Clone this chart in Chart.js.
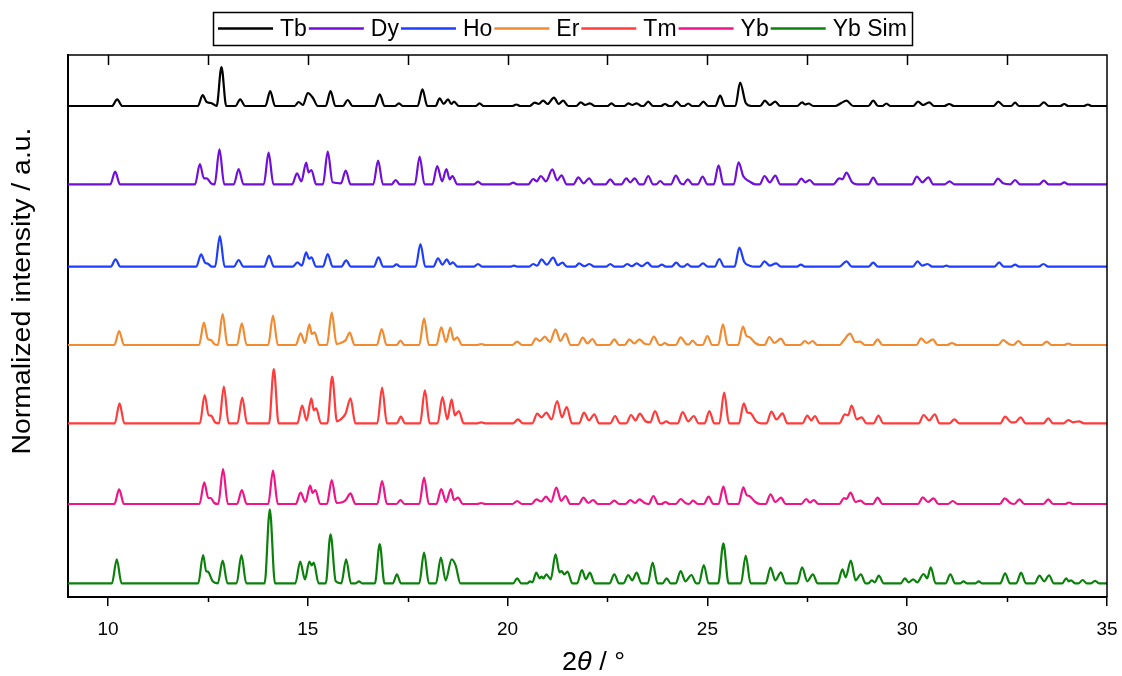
<!DOCTYPE html>
<html>
<head>
<meta charset="utf-8">
<script src="https://cdn.jsdelivr.net/npm/chart.js@4.4.1/dist/chart.umd.min.js"></script>
<style>
html,body{margin:0;padding:0;background:#fff;}
#wrap{width:1122px;height:676px;position:relative;}
</style>
</head>
<body>
<div id="wrap"><canvas id="c" width="1122" height="676"></canvas></div>
<script>
// ---- data (2theta in degrees, intensity in a.u. above each trace's own baseline) ----
const seriesLabels = ["Tb", "Dy", "Ho", "Er", "Tm", "Yb", "Yb Sim"];
const seriesColors = ["#000000", "#6f0fd9", "#1f3dff", "#f28a30", "#ff3b3b", "#ef1587", "#0b800b"];
const offsets = [491, 412.7, 330.3, 252, 173.7, 93, 13.7];
const xTickValues = [10, 15, 20, 25, 30, 35];
const xMinorTicks = [12.5, 17.5, 22.5, 27.5, 32.5];
const xRange = [9, 35];

const tbData = [[9,0],[10.1,0],[10.23,6.7],[10.36,0],
[12.25,0],[12.37,11],[12.47,4],[12.58,3],[12.72,0],[12.84,39],[12.96,0],
[13.19,0],[13.31,6.7],[13.43,0],
[13.94,0],[14.06,15],[14.18,0],
[14.67,0],[14.77,4],[14.88,1],[15.0,13],[15.13,8],[15.25,0],
[15.45,0],[15.57,15],[15.69,0],
[15.88,0],[16.0,6],[16.12,0],
[16.68,0],[16.8,11.7],[16.92,0],
[17.18,0],[17.28,2.7],[17.38,0],
[17.75,0],[17.87,16.7],[17.99,0],
[18.2,0],[18.3,7.7],[18.4,2],[18.51,6.7],[18.59,2],[18.66,4.3],[18.78,0],
[19.2,0],[19.3,2.7],[19.4,0],
[20.12,0],[20.22,1.5],[20.32,0],
[20.55,0],[20.68,3.3],[20.78,2],[20.89,5.3],[21.0,2],[21.16,8.3],[21.28,2],[21.39,5.3],[21.52,0],
[21.72,0],[21.83,3.7],[21.94,1],[22.06,2.7],[22.18,0],
[22.5,0],[22.6,2.7],[22.7,0],
[22.92,0],[23.02,2.7],[23.12,1],[23.23,2.7],[23.35,0],
[23.4,0],[23.52,4.3],[23.64,0],
[23.84,0],[23.94,2],[24.04,0],
[24.12,0],[24.23,4.3],[24.35,0],
[24.42,0],[24.52,2.5],[24.62,0],
[24.78,0],[24.9,4.3],[25.02,0],
[25.2,0],[25.32,10.3],[25.44,0],
[25.7,0],[25.82,23.3],[25.96,3],[26.1,0],
[26.32,0],[26.44,5.3],[26.56,1],[26.7,4.3],[26.82,0],
[27.25,0],[27.37,3.7],[27.45,1.5],[27.53,2.5],[27.65,0],
[28.2,0],[28.35,3],[28.48,5.3],[28.65,0],
[29.03,0],[29.15,5.3],[29.27,0],
[29.38,0],[29.48,2.5],[29.58,0],
[30.15,0],[30.27,4.3],[30.4,1],[30.55,3.7],[30.67,0],
[30.93,0],[31.05,2],[31.17,0],
[32.16,0],[32.28,4.3],[32.42,0],
[32.6,0],[32.7,3.3],[32.8,0],
[33.3,0],[33.42,3.7],[33.54,0],
[33.83,0],[33.93,2],[34.03,0],
[34.42,0],[34.52,1.5],[34.62,0],[35,0]];

const dyData = [[9,0],[10.06,0],[10.18,12.7],[10.3,0],
[12.18,0],[12.3,20.3],[12.4,6],[12.47,6],[12.58,1],[12.67,0],[12.79,35],[12.91,0],
[13.15,0],[13.27,15.3],[13.39,0],
[13.9,0],[14.02,31.7],[14.14,0],
[14.61,0],[14.73,11],[14.84,3],[14.96,21.7],[15.02,12],[15.09,14.3],[15.21,0],
[15.38,0],[15.5,32.7],[15.62,2],[15.83,1],[15.95,13.7],[16.07,0],
[16.64,0],[16.76,23.7],[16.88,0],
[17.1,0],[17.2,4.3],[17.3,0],
[17.68,0],[17.8,27.7],[17.92,0],
[18.12,0],[18.24,18.3],[18.36,3],[18.47,15.3],[18.55,5],[18.62,8.3],[18.74,0],
[19.16,0],[19.26,2.7],[19.36,0],
[20.04,0],[20.14,1.7],[20.24,0],
[20.52,0],[20.64,5.3],[20.73,3],[20.83,8.3],[20.96,3],[21.12,15],[21.24,4],[21.35,9],[21.48,0],
[21.65,0],[21.77,7],[21.9,1],[22.04,6],[22.16,0],
[22.45,0],[22.57,5],[22.69,0],
[22.85,0],[22.97,6],[23.07,2],[23.18,6],[23.3,0],
[23.4,0],[23.52,8.3],[23.64,0],
[23.72,0],[23.82,3.3],[23.92,0],
[24.09,0],[24.21,8.7],[24.33,1],[24.4,0],[24.51,5],[24.63,0],
[24.76,0],[24.88,7.7],[25.0,0],
[25.16,0],[25.28,19],[25.4,0],
[25.66,0],[25.78,22],[25.9,8],[26.05,3],[26.2,0],
[26.31,0],[26.43,8.3],[26.56,2],[26.7,8.7],[26.82,0],
[27.23,0],[27.35,5.7],[27.45,2],[27.56,4.3],[27.68,0],
[28.15,0],[28.3,6],[28.38,5],[28.48,11.7],[28.62,2],[28.75,0],
[29.03,0],[29.15,6.7],[29.27,0],
[30.12,0],[30.24,7.7],[30.38,2],[30.53,7],[30.65,0],
[30.94,0],[31.06,3],[31.18,0],
[32.15,0],[32.27,5.7],[32.4,1],[32.58,0],[32.7,4.3],[32.82,0],
[33.3,0],[33.42,3.7],[33.54,0],
[33.83,0],[33.93,2],[34.03,0],[35,0]];

const hoData = [[9,0],[10.07,0],[10.19,7.3],[10.31,0],
[12.21,0],[12.33,12.3],[12.43,4],[12.5,3],[12.6,0],[12.68,0],[12.8,30.7],[12.92,0],
[13.15,0],[13.27,6.7],[13.39,0],
[13.91,0],[14.03,11],[14.15,0],
[14.62,0],[14.74,4.3],[14.85,1],[14.96,14.3],[15.03,8],[15.09,9.3],[15.21,0],
[15.38,0],[15.5,12.7],[15.62,0],
[15.84,0],[15.96,6.3],[16.08,0],
[16.65,0],[16.77,9.3],[16.89,0],
[17.12,0],[17.22,2.3],[17.32,0],
[17.7,0],[17.82,22.7],[17.94,0],
[18.14,0],[18.26,8.3],[18.37,2],[18.48,7.3],[18.56,2.5],[18.63,4.3],[18.75,0],
[19.16,0],[19.26,2.7],[19.36,0],
[20.06,0],[20.16,1],[20.26,0],
[20.54,0],[20.64,2.7],[20.74,1],[20.85,7.3],[20.98,2],[21.14,9],[21.26,1.5],[21.37,4],[21.49,0],
[21.69,0],[21.79,3.3],[21.92,0.5],[22.05,2.7],[22.17,0],
[22.47,0],[22.57,2.7],[22.67,0],
[22.89,0],[22.99,2.7],[23.11,0.5],[23.23,3.3],[23.36,0.5],[23.5,4],[23.62,0],
[23.76,0],[23.86,2],[23.96,0],
[24.1,0],[24.22,4],[24.34,0],
[24.4,0],[24.5,2.5],[24.6,0],
[24.77,0],[24.89,3.3],[25.01,0],
[25.18,0],[25.3,7.7],[25.42,0],
[25.68,0],[25.8,19],[25.92,5],[26.06,1],[26.2,0],
[26.31,0],[26.43,5.3],[26.56,1],[26.72,3.3],[26.84,0],
[27.24,0],[27.34,2],[27.44,0],
[28.3,0],[28.48,5.3],[28.62,0],
[29.03,0],[29.15,4],[29.27,0],
[30.14,0],[30.26,5.3],[30.38,1],[30.51,2.7],[30.63,0],
[30.88,0],[30.98,1],[31.08,0],
[32.18,0],[32.3,4.3],[32.42,0],
[32.6,0],[32.7,2],[32.8,0],
[33.29,0],[33.41,2.7],[33.53,0],[35,0]];

const erData = [[9,0],[10.16,0],[10.28,14],[10.4,0],
[12.28,0],[12.4,22.3],[12.5,6],[12.58,5],[12.66,1],[12.75,0],[12.87,31],[12.99,0],
[13.23,0],[13.35,21.7],[13.47,0],
[14.01,0],[14.13,29.3],[14.25,0],
[14.7,0],[14.82,11.7],[14.93,2],[15.04,20.7],[15.1,11],[15.17,12.7],[15.29,0],
[15.48,0],[15.6,32.3],[15.72,1],[15.88,3],[15.95,5],[16.05,12.3],[16.17,0],
[16.73,0],[16.85,16],[16.97,0],
[17.22,0],[17.32,4.3],[17.42,0],
[17.79,0],[17.91,26.7],[18.03,0],
[18.22,0],[18.34,17.7],[18.46,3],[18.57,17.3],[18.65,5],[18.74,7.7],[18.86,0],
[19.24,0],[19.34,1],[19.44,0],
[20.12,0],[20.24,3.3],[20.36,0],
[20.59,0],[20.71,6.7],[20.81,4],[20.93,8.3],[21.06,3],[21.2,15.7],[21.32,4],[21.45,11.3],[21.58,0],
[21.76,0],[21.88,7.3],[22.0,1.5],[22.12,6],[22.24,0],
[22.55,0],[22.67,5.7],[22.79,0],
[22.93,0],[23.05,5.7],[23.17,1.5],[23.3,5.7],[23.42,1.5],[23.54,0.5],[23.66,8.3],[23.8,0],
[23.85,0],[23.93,2],[24.03,0],
[24.21,0],[24.33,7.7],[24.47,1],[24.53,0.5],[24.63,4.3],[24.75,0],
[24.88,0],[25.0,9],[25.12,0],
[25.27,0],[25.39,20.7],[25.51,0],
[25.77,0],[25.89,18.3],[25.98,9],[26.05,8],[26.2,2],[26.32,0],
[26.43,0],[26.55,8],[26.68,2],[26.84,6.3],[26.96,0],
[27.32,0],[27.44,4],[27.53,1.5],[27.63,4],[27.75,0],
[28.3,0],[28.42,5],[28.57,11.3],[28.7,3],[28.82,3.3],[28.94,0],
[29.14,0],[29.26,5.7],[29.38,0],
[30.23,0],[30.35,6.7],[30.48,2],[30.64,5.7],[30.76,0],
[31.0,0],[31.12,2],[31.24,0],
[32.28,0],[32.4,5],[32.54,1],[32.66,0],[32.78,4],[32.9,0],
[33.37,0],[33.49,3.3],[33.61,0],
[33.93,0],[34.03,1.5],[34.13,0],[35,0]];

const tmData = [[9,0],[10.17,0],[10.29,20],[10.41,0],
[12.3,0],[12.42,28.3],[12.52,8],[12.58,7.7],[12.68,1],[12.78,0],[12.9,36.7],[13.02,0],
[13.24,0],[13.36,25.7],[13.48,0],
[14.03,0],[14.15,54.3],[14.27,0],
[14.74,0],[14.86,17.7],[14.97,3],[15.09,25],[15.15,13],[15.21,15],[15.33,0],
[15.49,0],[15.61,46.7],[15.73,2],[15.88,6],[15.95,10],[16.07,25],[16.19,0],
[16.74,0],[16.86,35.7],[16.98,0],
[17.23,0],[17.33,6.7],[17.43,0],
[17.81,0],[17.93,33],[18.05,0],
[18.25,0],[18.37,26.3],[18.49,4],[18.6,24],[18.68,8],[18.78,12.3],[18.9,0],
[19.24,0],[19.34,1],[19.44,0],
[20.14,0],[20.26,4],[20.38,0],
[20.62,0],[20.74,9.7],[20.85,6],[20.97,10.7],[21.1,4],[21.24,22.3],[21.36,6],[21.48,16.3],[21.61,0],
[21.79,0],[21.91,10.7],[22.04,3],[22.17,9],[22.29,0],
[22.57,0],[22.69,7.3],[22.81,0],
[22.97,0],[23.09,8.3],[23.2,3],[23.31,9.7],[23.45,2],[23.57,1],[23.69,12.3],[23.83,0],
[23.87,0],[23.97,2],[24.07,0],
[24.26,0],[24.38,11.3],[24.52,2],[24.66,7.3],[24.78,0],
[24.93,0],[25.05,12.3],[25.17,0],
[25.3,0],[25.42,30.7],[25.54,0],
[25.79,0],[25.91,20],[26.0,11],[26.08,10],[26.22,2],[26.34,0],
[26.48,0],[26.6,11.7],[26.73,4],[26.88,10],[27.0,0],
[27.38,0],[27.5,7.7],[27.6,3],[27.69,7.3],[27.81,0],
[28.3,0],[28.44,9],[28.52,8],[28.61,17.7],[28.74,4],[28.86,6],[28.98,0],
[29.16,0],[29.28,7.7],[29.4,0],
[30.29,0],[30.41,8.3],[30.55,3],[30.69,9],[30.81,0],
[31.06,0],[31.18,4],[31.3,0],
[32.33,0],[32.45,6.7],[32.6,1],[32.7,1],[32.84,6],[32.96,0],
[33.41,0],[33.53,5],[33.65,0],
[33.91,0],[34.03,3.3],[34.15,1],[34.3,2],[34.42,0],[35,0]];

const ybData = [[9,0],[10.16,0],[10.28,14.7],[10.4,0],
[12.29,0],[12.41,21.7],[12.51,6],[12.57,6],[12.66,1],[12.76,0],[12.88,35],[13.0,0],
[13.23,0],[13.35,14],[13.47,0],
[14.01,0],[14.13,33.3],[14.25,0],
[14.7,0],[14.82,11.3],[14.94,2],[15.06,18.3],[15.12,11],[15.19,14],[15.31,0],
[15.48,0],[15.6,24],[15.72,1],[15.88,2],[15.95,4],[16.07,10.7],[16.19,0],
[16.74,0],[16.86,23],[16.98,0],
[17.22,0],[17.32,4],[17.42,0],
[17.79,0],[17.91,26.3],[18.03,0],
[18.22,0],[18.34,15],[18.46,2],[18.58,15],[18.66,4],[18.76,6.3],[18.88,0],
[19.24,0],[19.34,1],[19.44,0],
[20.12,0],[20.24,3],[20.36,0],
[20.6,0],[20.72,4.7],[20.84,2.5],[20.96,7.3],[21.09,2],[21.22,16.3],[21.34,3],[21.45,8],[21.57,0],
[21.78,0],[21.9,6.3],[22.02,1],[22.14,4],[22.26,0],
[22.55,0],[22.67,3.3],[22.79,0],
[22.95,0],[23.07,4],[23.19,1],[23.3,4.7],[23.43,1],[23.53,0],[23.65,8],[23.77,0],
[23.85,0],[23.95,2],[24.05,0],
[24.21,0],[24.33,5],[24.45,1],[24.54,0],[24.64,3.3],[24.76,0],
[24.91,0],[25.03,7.3],[25.15,0],
[25.28,0],[25.4,17.3],[25.52,0],
[25.78,0],[25.9,16.7],[25.98,9],[26.05,8],[26.2,2],[26.32,0],
[26.46,0],[26.58,9.7],[26.7,2],[26.84,6.3],[26.96,0],
[27.35,0],[27.47,5],[27.57,1.5],[27.66,4],[27.78,0],
[28.3,0],[28.42,6],[28.48,5],[28.58,11.3],[28.71,2],[28.83,3.3],[28.95,0],
[29.14,0],[29.26,6.3],[29.38,0],
[30.27,0],[30.39,6.7],[30.52,2],[30.66,5.7],[30.78,0],
[31.02,0],[31.14,3],[31.26,0],
[32.32,0],[32.44,5.7],[32.58,1],[32.68,0],[32.81,4.7],[32.93,0],
[33.41,0],[33.53,4.7],[33.65,0],
[33.95,0],[34.05,1.5],[34.15,0],[35,0]];

const ybSimData = [[9,0],[10.1,0],[10.22,24],[10.34,0],
[12.26,0],[12.38,28.3],[12.46,12],[12.5,11.7],[12.62,2],[12.75,0],[12.87,22.7],[12.99,0],
[13.22,0],[13.34,28.3],[13.46,0],
[13.92,0],[14.05,74],[14.18,0],
[14.69,0],[14.81,21.7],[14.93,4],[15.04,21.7],[15.1,18],[15.15,20.7],[15.27,0],
[15.45,0],[15.57,49],[15.7,2],[15.84,0],[15.96,24],[16.08,0],
[16.2,0],[16.28,2],[16.36,0],
[16.68,0],[16.8,39.3],[16.92,0],
[17.13,0],[17.23,9],[17.33,0],
[17.79,0],[17.91,30.7],[18.03,0],
[18.21,0],[18.33,25.7],[18.45,3],[18.6,24],[18.7,18],[18.82,0],
[20.14,0],[20.24,5],[20.34,0],
[20.5,0],[20.56,2],[20.62,1],[20.72,10.7],[20.8,5],[20.85,6.7],[20.9,5],[20.97,9],[21.08,4],[21.2,29],[21.3,11],[21.35,12.3],[21.42,9],[21.5,11.7],[21.62,0],
[21.74,0],[21.86,13.3],[21.96,4],[22.06,10.7],[22.18,0],
[22.55,0],[22.67,9],[22.79,0],
[22.9,0],[23.02,8.3],[23.12,3],[23.23,10.7],[23.35,0],
[23.51,0],[23.63,20.7],[23.75,0],
[23.88,0],[23.98,5],[24.08,0],
[24.21,0],[24.33,12.3],[24.45,2],[24.6,8.3],[24.72,0],
[24.79,0],[24.91,18.3],[25.03,0],
[25.27,0],[25.4,40],[25.53,0],
[25.84,0],[25.96,27.7],[26.08,0],
[26.46,0],[26.58,15.7],[26.7,3],[26.84,11],[26.96,0],
[27.25,0],[27.37,16],[27.5,2],[27.64,9],[27.76,0],
[28.26,0],[28.38,14],[28.46,6],[28.59,22.7],[28.71,3],[28.84,9],[28.96,0],
[29.03,0],[29.11,3],[29.19,1],[29.29,7.7],[29.41,0],
[29.84,0],[29.94,5],[30.04,1],[30.15,4],[30.25,1],[30.41,9.3],[30.5,5],[30.59,16],[30.71,0],
[30.96,0],[31.08,9],[31.2,0],
[31.33,0],[31.41,2],[31.49,0],
[31.71,0],[31.79,2],[31.87,0],
[32.33,0],[32.45,10],[32.57,0],
[32.73,0],[32.85,10.7],[32.97,0],
[33.19,0],[33.31,7.7],[33.43,2],[33.55,8],[33.67,0],
[33.88,0],[33.98,5],[34.04,2],[34.1,3],[34.2,0],
[34.29,0],[34.39,3.3],[34.49,0],
[34.6,0],[34.7,2.5],[34.8,0],[35,0]];

const seriesData = [tbData, dyData, hoData, erData, tmData, ybData, ybSimData];

// ---- chart ----
const FONT = '"Liberation Sans", Arial, sans-serif';

function drawFitted(ctx, text, x, y, targetW) {
  const w = ctx.measureText(text).width;
  const k = targetW / w;
  ctx.save();
  ctx.translate(x, y);
  ctx.scale(k, 1);
  ctx.fillText(text, 0, 0);
  ctx.restore();
}

const framePlugin = {
  id: 'frame',
  afterDraw(chart) {
    const {ctx, chartArea: a, scales: {x}} = chart;
    ctx.save();
    ctx.strokeStyle = '#000';
    ctx.lineWidth = 1.5;
    ctx.beginPath();
    ctx.moveTo(a.left, a.top); ctx.lineTo(a.right, a.top); ctx.lineTo(a.right, a.bottom);
    ctx.stroke();
    // top inward ticks
    const all = xTickValues.concat(xMinorTicks);
    all.forEach(v => {
      const px = Math.round(x.getPixelForValue(v)) + 0.5;
      if (px >= a.right - 1) return;
      ctx.beginPath(); ctx.moveTo(px, a.top); ctx.lineTo(px, a.top + 10); ctx.stroke();
    });
    // bottom minor ticks
    xMinorTicks.forEach(v => {
      const px = Math.round(x.getPixelForValue(v)) + 0.5;
      ctx.beginPath(); ctx.moveTo(px, a.bottom); ctx.lineTo(px, a.bottom + 5); ctx.stroke();
    });
    // y title
    ctx.fillStyle = '#000';
    ctx.font = '25px ' + FONT;
    ctx.textAlign = 'center'; ctx.textBaseline = 'middle';
    ctx.save();
    ctx.translate(23, 291); ctx.rotate(-Math.PI / 2);
    drawFitted(ctx, 'Normalized intensity / a.u.', 0, 0, 327);
    ctx.restore();
    // x title: 2θ / °  (θ italic)
    const parts = [['2', ''], ['θ', 'italic '], [' / °', '']];
    const fs = '25px ';
    ctx.textAlign = 'left'; ctx.textBaseline = 'middle';
    let widths = parts.map(p => { ctx.font = p[1] + fs + FONT; return ctx.measureText(p[0]).width; });
    const tw = widths.reduce((s, w) => s + w, 0);
    const k = 63 / tw;
    ctx.save();
    ctx.translate(562, 663); ctx.scale(k, 1);
    let sx = 0;
    parts.forEach((p, i) => { ctx.font = p[1] + fs + FONT; ctx.fillText(p[0], sx, 0); sx += widths[i]; });
    ctx.restore();
    // legend
    ctx.font = '23px ' + FONT;
    ctx.textAlign = 'left'; ctx.textBaseline = 'middle';
    const lineLen = 55, gapText = 7, gapItem = 2, pad = 5;
    const items = chart.data.datasets.map(d => ({t: d.label, c: d.borderColor, w: ctx.measureText(d.label).width}));
    let total = pad * 2 + items.reduce((s, it) => s + lineLen + gapText + it.w, 0) + gapItem * (items.length - 1);
    const top = 12, h = 33, cy = top + h / 2;
    let lx = Math.round(562 - total / 2);
    ctx.lineWidth = 1.5; ctx.strokeStyle = '#000';
    ctx.strokeRect(lx + 0.5, top + 0.5, Math.round(total), h);
    let cx = lx + pad;
    items.forEach(it => {
      ctx.strokeStyle = it.c; ctx.lineWidth = 2.5;
      ctx.beginPath(); ctx.moveTo(cx, cy); ctx.lineTo(cx + lineLen, cy); ctx.stroke();
      cx += lineLen + gapText;
      ctx.fillStyle = '#000';
      ctx.fillText(it.t, cx, cy + 1);
      cx += it.w + gapItem;
    });
    ctx.restore();
  }
};

const datasets = seriesLabels.map((lab, i) => ({
  label: lab,
  data: seriesData[i].map(p => ({x: p[0], y: p[1] + offsets[i]})),
  borderColor: seriesColors[i],
  backgroundColor: seriesColors[i],
  borderWidth: 2.2,
  pointRadius: 0,
  cubicInterpolationMode: 'monotone',
  fill: false
}));

new Chart(document.getElementById('c'), {
  type: 'line',
  data: {datasets},
  plugins: [framePlugin],
  options: {
    responsive: false,
    animation: false,
    layout: {padding: {top: 55, right: 15, left: 0, bottom: 0}},
    plugins: {legend: {display: false}, tooltip: {enabled: false}},
    scales: {
      x: {
        type: 'linear', min: xRange[0], max: xRange[1],
        afterBuildTicks: s => { s.ticks = xTickValues.map(v => ({value: v})); },
        afterFit: s => { s.height = 79; s.paddingLeft = 0; s.paddingRight = 0; },
        grid: {display: true, drawOnChartArea: false, drawTicks: true, tickLength: 9, color: '#000', lineWidth: 1.5},
        border: {display: true, color: '#000', width: 2},
        ticks: {color: '#000', font: {family: FONT, size: 19}, padding: 12, maxRotation: 0}
      },
      y: {
        type: 'linear', min: 0, max: 542,
        afterFit: s => { s.width = 68; s.paddingTop = 0; s.paddingBottom = 0; },
        grid: {display: false, drawTicks: false},
        border: {display: true, color: '#000', width: 2},
        ticks: {display: false}
      }
    }
  }
});
</script>
</body>
</html>
